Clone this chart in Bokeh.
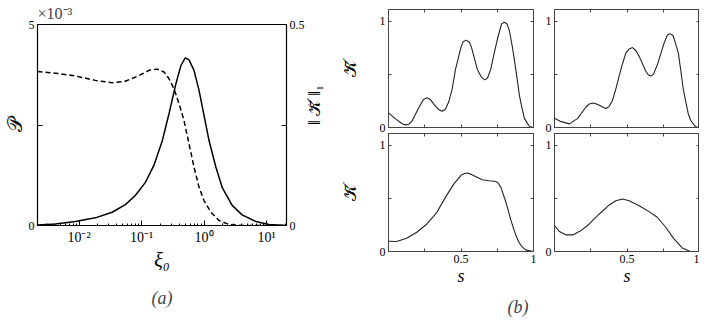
import math
from bokeh.plotting import figure
from bokeh.models import Range1d, LinearAxis, FixedTicker, Title
from bokeh.layouts import row, column
from bokeh.embed import file_html
from bokeh.resources import INLINE

FONT = "Liberation Serif"

# ---------------- panel (a) data ----------------
xi0_p = [0.00216, 0.00417, 0.00871, 0.0182, 0.0339, 0.0550, 0.0794, 0.116, 0.158,
         0.214, 0.275, 0.355, 0.427, 0.501, 0.575, 0.692, 0.832, 1.0, 1.20, 1.55,
         1.95, 2.82, 4.07, 6.76, 11.0, 20.9]
p_vals = [0.015, 0.04, 0.10, 0.19, 0.33, 0.52, 0.745, 1.08, 1.50,
          2.10, 2.78, 3.53, 3.98, 4.17, 4.12, 3.86, 3.36, 2.74, 2.12, 1.45,
          0.95, 0.50, 0.265, 0.10, 0.025, 0.0]          # x 10^-3

xi0_k = [0.00216, 0.00417, 0.00871, 0.0182, 0.0339, 0.0550, 0.0912, 0.132, 0.178,
         0.229, 0.275, 0.331, 0.398, 0.479, 0.575, 0.692, 0.832, 1.0, 1.29, 1.74,
         2.51, 4.07, 20.9]
k_norm = [0.383, 0.379, 0.372, 0.361, 0.355, 0.359, 0.373, 0.386, 0.389,
          0.382, 0.365, 0.34, 0.303, 0.261, 0.203, 0.145, 0.095, 0.062, 0.033, 0.0125,
          0.0025, 0.0, 0.0]

xi0_range = (0.00216, 20.9)
x_ticks_a = [0.01, 0.1, 1, 10]
x_tick_labels_a = ["10⁻²", "10⁻¹", "10⁰", "10¹"]
x_minor_a = [m * 10.0 ** e for e in range(-3, 2) for m in range(2, 10)]
y_ticks_p = [0, 2.5, 5]
y_tick_labels_p = ["0", "", "5"]
y_ticks_k = [0, 0.25, 0.5]
y_tick_labels_k = ["0", "", "0.5"]

# ---------------- panel (b) data ----------------
s_tl = [0, 0.044, 0.09, 0.102, 0.12, 0.139, 0.16, 0.206, 0.241, 0.265, 0.288, 0.31,
        0.346, 0.369, 0.392, 0.415, 0.439, 0.462, 0.501, 0.515, 0.536, 0.557, 0.571,
        0.594, 0.613, 0.643, 0.664, 0.682, 0.705, 0.729, 0.752, 0.78, 0.798, 0.817,
        0.833, 0.852, 0.868, 0.886, 0.903, 0.919, 0.937, 0.972, 1.0]
k_tl = [0.138, 0.086, 0.04, 0.031, 0.025, 0.031, 0.055, 0.178, 0.264, 0.279, 0.264, 0.224,
        0.169, 0.153, 0.172, 0.239, 0.362, 0.546, 0.761, 0.807, 0.822, 0.804, 0.761,
        0.644, 0.546, 0.469, 0.448, 0.463, 0.546, 0.70, 0.837, 0.975, 0.99, 0.976,
        0.914, 0.776, 0.638, 0.469, 0.30, 0.193, 0.086, 0.009, 0.0]

s_tr = [0, 0.046, 0.103, 0.16, 0.217, 0.24, 0.263, 0.286, 0.309, 0.332, 0.355, 0.378,
        0.40, 0.423, 0.446, 0.469, 0.492, 0.515, 0.538, 0.561, 0.584, 0.629, 0.648,
        0.664, 0.682, 0.71, 0.755, 0.778, 0.796, 0.817, 0.835, 0.854, 0.87, 0.888,
        0.904, 0.922, 0.938, 0.973, 1.0]
k_tr = [0.086, 0.055, 0.034, 0.086, 0.193, 0.221, 0.23, 0.224, 0.209, 0.193, 0.178, 0.199,
        0.255, 0.362, 0.485, 0.60, 0.70, 0.739, 0.752, 0.724, 0.669, 0.531, 0.494,
        0.485, 0.50, 0.592, 0.791, 0.868, 0.883, 0.865, 0.791, 0.70, 0.546, 0.362,
        0.25, 0.132, 0.071, 0.006, 0.0]

s_bl = [0, 0.056, 0.125, 0.195, 0.265, 0.334, 0.392, 0.45, 0.501, 0.52, 0.543, 0.566,
        0.589, 0.647, 0.694, 0.74, 0.756, 0.775, 0.81, 0.826, 0.845, 0.861, 0.879,
        0.896, 0.914, 0.93, 0.949, 1.0]
k_bl = [0.097, 0.094, 0.125, 0.181, 0.259, 0.369, 0.509, 0.634, 0.719, 0.731, 0.738, 0.728,
        0.713, 0.675, 0.666, 0.659, 0.644, 0.603, 0.463, 0.384, 0.291, 0.222, 0.15,
        0.097, 0.056, 0.034, 0.013, 0.0]

s_br = [0, 0.034, 0.08, 0.126, 0.183, 0.24, 0.309, 0.378, 0.423, 0.469, 0.515, 0.584,
        0.652, 0.709, 0.767, 0.824, 0.881, 0.938, 1.0]
k_br = [0.244, 0.188, 0.156, 0.156, 0.197, 0.259, 0.353, 0.438, 0.478, 0.494, 0.478, 0.431,
        0.375, 0.322, 0.228, 0.119, 0.034, 0.0, 0.0]

s_ticks = [0, 0.25, 0.5, 0.75, 1]
s_tick_labels = ["", "", "0.5", "", "1"]
kb_ticks = [0, 0.5, 1]
kb_tick_labels = ["0", "", "1"]
kb_range = (0, 1.11)


def style_axis(ax, color, tick_in=4, font_size="12px", standoff=3):
    ax.axis_line_color = color
    ax.major_tick_line_color = color
    ax.minor_tick_line_color = color
    ax.major_tick_in = tick_in
    ax.major_tick_out = 0
    ax.minor_tick_in = 2
    ax.minor_tick_out = 0
    ax.major_label_text_font = FONT
    ax.major_label_text_font_size = font_size
    ax.major_label_text_color = "black"
    ax.major_label_standoff = standoff
    ax.axis_label_text_font = FONT
    ax.axis_label_text_font_style = "normal"
    ax.axis_label_text_color = "black"


def hidden_axis(ax, color, tick_in=3):
    style_axis(ax, color, tick_in=tick_in, font_size="0px", standoff=0)
    ax.major_label_text_color = None
    ax.minor_tick_line_color = None
    ax.axis_label_standoff = 0


# ---------------- panel (a) ----------------
pa = figure(x_axis_type="log", x_range=Range1d(*xi0_range), y_range=Range1d(0, 5),
            frame_width=249, frame_height=201, min_border=0,
            min_border_left=29, min_border_right=50, min_border_top=24, min_border_bottom=97,
            output_backend="svg", toolbar_location=None,
            outline_line_color="black", outline_line_width=1.2,
            background_fill_color="white", border_fill_color="white")
pa.xgrid.visible = False
pa.ygrid.visible = False
pa.extra_y_ranges = {"k": Range1d(0, 0.5)}

pa.line(xi0_p, p_vals, line_color="black", line_width=1.5)
pa.line(xi0_k, k_norm, y_range_name="k", line_color="black", line_width=1.5, line_dash="5 3")

xa = pa.xaxis[0]
xa.ticker = FixedTicker(ticks=x_ticks_a, minor_ticks=x_minor_a)
xa.major_label_overrides = dict(zip(x_ticks_a, x_tick_labels_a))
style_axis(xa, "black", tick_in=5, font_size="14px", standoff=4)
xa.axis_label = "ξ₀"
xa.axis_label_text_font_size = "20px"
xa.axis_label_text_font_style = "italic"
xa.axis_label_standoff = 1

ya = pa.yaxis[0]
ya.ticker = FixedTicker(ticks=y_ticks_p)
ya.major_label_overrides = dict(zip(y_ticks_p, y_tick_labels_p))
style_axis(ya, "black", tick_in=5, font_size="12px", standoff=3)
ya.axis_label = "𝒫"
ya.axis_label_text_font_size = "20px"
ya.axis_label_standoff = 0

yk = LinearAxis(y_range_name="k", ticker=FixedTicker(ticks=y_ticks_k))
yk.major_label_overrides = dict(zip(y_ticks_k, y_tick_labels_k))
style_axis(yk, "black", tick_in=5, font_size="12px", standoff=3)
yk.axis_label = "‖ 𝒦̄ ‖₁"
yk.axis_label_text_font_size = "17px"
yk.axis_label_standoff = 7
if "axis_label_orientation" in yk.properties():
    yk.axis_label_orientation = math.pi / 2
pa.add_layout(yk, "right")

pa.add_layout(Title(text="×10⁻³", align="left", text_font=FONT, text_font_size="16px",
                    text_font_style="normal", standoff=5), "above")
pa.add_layout(Title(text="(a)", align="center", text_font=FONT, text_font_size="18px",
                    text_font_style="italic", standoff=24), "below")


# ---------------- panel (b) ----------------
LINE_B = "#222222"
FRAME_B = "#444444"


def make_b(s, k, left, right, top, bottom, fh, ylabel, xlabels, ybase):
    p = figure(x_range=Range1d(0, 1), y_range=Range1d(*kb_range),
               frame_width=145, frame_height=fh, min_border=0,
               min_border_left=left, min_border_right=right,
               min_border_top=top, min_border_bottom=bottom,
               output_backend="svg", toolbar_location=None,
               outline_line_color=FRAME_B, outline_line_width=1,
               background_fill_color="white", border_fill_color="white")
    p.xgrid.visible = False
    p.ygrid.visible = False
    p.line(s, k, line_color=LINE_B, line_width=1.1)

    xb = p.xaxis[0]
    xb.ticker = FixedTicker(ticks=s_ticks)
    if xlabels:
        xb.major_label_overrides = dict(zip(s_ticks, s_tick_labels))
        style_axis(xb, FRAME_B, tick_in=3, font_size="12px", standoff=3)
        xb.axis_label = "s"
        xb.axis_label_text_font_size = "18px"
        xb.axis_label_text_font_style = "italic"
        xb.axis_label_standoff = 0
    else:
        hidden_axis(xb, FRAME_B)

    yb = p.yaxis[0]
    yb.ticker = FixedTicker(ticks=kb_ticks)
    yb.major_label_overrides = dict(zip(kb_ticks, kb_tick_labels))
    style_axis(yb, FRAME_B, tick_in=3, font_size="12px", standoff=3)
    yb.major_label_text_baseline = ybase
    if ylabel:
        yb.axis_label = "𝒦̄"
        yb.axis_label_text_font_size = "18px"
        yb.axis_label_standoff = 17

    top_ax = LinearAxis(ticker=FixedTicker(ticks=s_ticks))
    hidden_axis(top_ax, FRAME_B)
    p.add_layout(top_ax, "above")
    right_ax = LinearAxis(ticker=FixedTicker(ticks=kb_ticks))
    hidden_axis(right_ax, FRAME_B)
    p.add_layout(right_ax, "right")
    return p


tl = make_b(s_tl, k_tl, 51, 3, 9, 6, 118, True, False, "alphabetic")
tr = make_b(s_tr, k_tr, 18, 0, 9, 6, 118, False, False, "alphabetic")
bl = make_b(s_bl, k_bl, 51, 3, 0, 72, 118, True, True, "middle")
br = make_b(s_br, k_br, 18, 0, 0, 72, 118, False, True, "middle")

bl.add_layout(Title(text="(b)", align="left", offset=119, text_font=FONT,
                    text_font_size="18px", text_font_style="italic", standoff=12), "below")

layout = row(pa, column(row(tl, tr), row(bl, br)))

open("out.html", "w").write(file_html(layout, INLINE))
